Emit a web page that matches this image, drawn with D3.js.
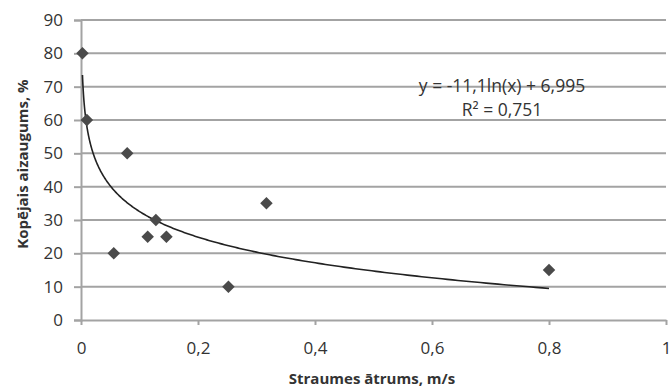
<!DOCTYPE html>
<html>
<head>
<meta charset="utf-8">
<script src="https://cdn.jsdelivr.net/npm/d3@7"></script>
<style>
  html, body { margin: 0; padding: 0; background: #fff; }
  svg { display: block; }
  text { font-family: "Open Sans", "DejaVu Sans", sans-serif; }
</style>
</head>
<body>
<div id="chart"></div>
<script>
// ---- data ----
const speedValues = [0.0025, 0.01, 0.079, 0.056, 0.128, 0.114, 0.146, 0.252, 0.317, 0.8];
const coverValues = [80, 60, 50, 20, 30, 25, 25, 10, 35, 15];
const xTickValues = [0, 0.2, 0.4, 0.6, 0.8, 1];
const xTickLabels = ["0", "0,2", "0,4", "0,6", "0,8", "1"];
const yTickValues = [0, 10, 20, 30, 40, 50, 60, 70, 80, 90];
const yTickLabels = ["0", "10", "20", "30", "40", "50", "60", "70", "80", "90"];
const trendCoefA = -11.1;   // y = a*ln(x) + b
const trendCoefB = 6.995;
const equationLines = ["y = -11,1ln(x) + 6,995", "R² = 0,751"];
const xTitle = "Straumes ātrums, m/s";
const yTitle = "Kopējais aizaugums, %";

// ---- layout ----
const W = 671, H = 389;
const svg = d3.select("#chart").append("svg").attr("width", W).attr("height", H);

const x = d3.scaleLinear().domain([0, 1]).range([81, 666]);
const y = d3.scaleLinear().domain([0, 90]).range([320, 20]);

const gridColor = "#a3a3a3";
const textColor = "#333333";

// gridlines
svg.append("g").selectAll("line")
  .data(yTickValues.filter(v => v > 0))
  .join("line")
  .attr("x1", x(0)).attr("x2", x(1))
  .attr("y1", d => y(d)).attr("y2", d => y(d))
  .attr("stroke", gridColor).attr("stroke-width", 2);

// y axis
const yAxis = d3.axisLeft(y).tickValues(yTickValues)
  .tickFormat((d, i) => yTickLabels[i]).tickSize(7).tickPadding(11);
const gy = svg.append("g").attr("transform", `translate(${x(0)},0)`).call(yAxis);
gy.select(".domain").attr("stroke", gridColor).attr("stroke-width", 2);
gy.selectAll(".tick line").attr("stroke", gridColor).attr("stroke-width", 2);
gy.selectAll(".tick text").attr("fill", textColor).style("font-size", "17px")
  .style("font-family", '"Open Sans", sans-serif');

// x axis
const xAxis = d3.axisBottom(x).tickValues(xTickValues)
  .tickFormat((d, i) => xTickLabels[i]).tickSize(5).tickSizeOuter(0).tickPadding(17);
const gx = svg.append("g").attr("transform", `translate(0,${y(0)})`).call(xAxis);
gx.select(".domain").attr("stroke", gridColor).attr("stroke-width", 2);
gx.selectAll(".tick line").attr("stroke", gridColor).attr("stroke-width", 2);
gx.selectAll(".tick text").attr("fill", textColor).style("font-size", "17px")
  .style("font-family", '"Open Sans", sans-serif');

// trendline (logarithmic, from equation)
const xMin = d3.min(speedValues), xMax = d3.max(speedValues);
const trendPts = d3.range(0, 401).map(i => {
  const t = i / 400;
  const xv = Math.exp(Math.log(xMin) + t * (Math.log(xMax) - Math.log(xMin)));
  return [xv, trendCoefA * Math.log(xv) + trendCoefB];
});
svg.append("path")
  .datum(trendPts)
  .attr("d", d3.line().x(d => x(d[0])).y(d => y(d[1])))
  .attr("fill", "none").attr("stroke", "#222").attr("stroke-width", 1.6);

// points (diamonds)
const pts = speedValues.map((v, i) => ({ x: v, y: coverValues[i] }));
svg.append("g").selectAll("path")
  .data(pts)
  .join("path")
  .attr("transform", d => `translate(${x(d.x)},${y(d.y)})`)
  .attr("d", d3.symbol().type(d3.symbolDiamond2).size(100))
  .attr("fill", "#4a4a4a");

// equation
const eq = svg.append("text").attr("text-anchor", "middle")
  .attr("fill", textColor).style("font-size", "17.5px");
eq.append("tspan").attr("x", 502).attr("y", 92).text(equationLines[0]);
eq.append("tspan").attr("x", 502).attr("y", 116).text(equationLines[1]);

// axis titles
svg.append("text")
  .attr("x", 372).attr("y", 384)
  .attr("text-anchor", "middle")
  .attr("fill", textColor)
  .style("font-size", "15px").style("font-weight", "bold")
  .text(xTitle);

svg.append("text")
  .attr("transform", "translate(28,164) rotate(-90)")
  .attr("text-anchor", "middle")
  .attr("fill", textColor)
  .style("font-size", "15px").style("font-weight", "bold")
  .text(yTitle);
</script>
</body>
</html>
